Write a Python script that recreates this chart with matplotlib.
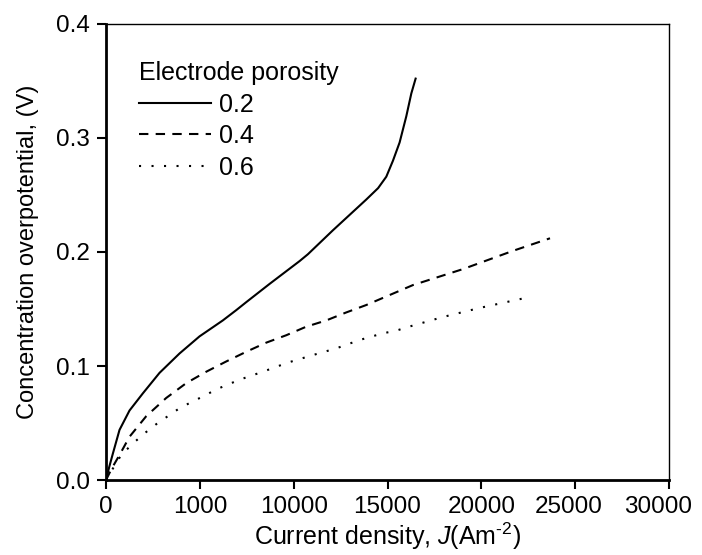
import numpy as np
import matplotlib
matplotlib.use("Agg")
import matplotlib.pyplot as plt
import matplotlib.transforms as mtransforms

plt.rcParams['font.family'] = ['Liberation Sans', 'DejaVu Sans']
plt.rcParams['mathtext.fontset'] = 'custom'
plt.rcParams['mathtext.rm'] = 'Liberation Sans'
plt.rcParams['mathtext.it'] = 'Liberation Sans:italic'

# Datos
j_02 = [0, 43, 180, 362, 720, 1253, 1962, 2852, 3918, 4984, 6226, 6940, 7473, 8716,
        10315, 10757, 12090, 13870, 14500, 14936, 15290, 15645, 16002, 16269, 16498]
v_02 = [0, 0.003, 0.012, 0.023, 0.044, 0.061, 0.076, 0.094, 0.111, 0.126, 0.140, 0.149, 0.156, 0.172,
        0.192, 0.198, 0.219, 0.246, 0.256, 0.266, 0.280, 0.296, 0.319, 0.339, 0.352]

j_04 = [0, 300, 720, 1253, 2143, 3209, 4275, 5341, 6407, 7473, 8539, 9606, 10672,
        11738, 12804, 13870, 16359, 19023, 21687, 23659]
v_04 = [0, 0.010, 0.022, 0.038, 0.056, 0.072, 0.085, 0.095, 0.104, 0.1125, 0.1205, 0.127, 0.1345,
        0.140, 0.147, 0.1535, 0.171, 0.185, 0.201, 0.212]

j_06 = [0, 362, 810, 1429, 2052, 2676, 3294, 3918, 4627, 5251, 5874, 7116, 8358, 9691,
        11024, 12272, 13513, 14757, 15468, 16040, 17958, 19929, 22433]
v_06 = [0, 0.010, 0.022, 0.032, 0.041, 0.049, 0.056, 0.063, 0.069, 0.074, 0.0795, 0.088, 0.095, 0.103,
        0.1096, 0.1155, 0.1228, 0.1287, 0.131, 0.134, 0.143, 0.151, 0.160]

x_ticks = [0, 5000, 10000, 15000, 20000, 25000, 30000]
x_tick_labels = ['0', '1000', '10000', '15000', '20000', '25000', '30000']
y_ticks = [0.0, 0.1, 0.2, 0.3, 0.4]

fig = plt.figure(figsize=(7.02, 5.55), dpi=100)
ax = fig.add_axes([0.151, 0.135, 0.802, 0.822])

ax.plot(j_02, v_02, color='black', lw=1.5, ls='-', label='0.2')
ax.plot(j_04, v_04, color='black', lw=1.5, ls=(0, (4.5, 3.5)), label='0.4')
ax.plot(j_06, v_06, color='black', lw=1.5, ls=(0, (1, 5)), label='0.6')

ax.set_xlim(0, 30000)
ax.set_ylim(0, 0.4)
ax.set_xticks(x_ticks)
ax.set_xticklabels(x_tick_labels)
ax.set_yticks(y_ticks)
ax.set_yticklabels([f'{v:.1f}' for v in y_ticks])

ax.tick_params(direction='out', length=6.5, width=1.5, labelsize=17.5, pad=5)
for s in ['left', 'bottom']:
    ax.spines[s].set_linewidth(2)
for s in ['top', 'right']:
    ax.spines[s].set_linewidth(1)

# las ultimas etiquetas del eje x quedan algo desplazadas a la izquierda
for lbl, dx in zip(ax.get_xticklabels()[-2:], [-6, -11]):
    lbl.set_transform(lbl.get_transform() + mtransforms.ScaledTranslation(dx / 100, 0, fig.dpi_scale_trans))

ax.set_xlabel(r'Current density, $J$(Am$^{\text{-2}}$)', fontsize=18, labelpad=2)
ax.set_ylabel('Concentration overpotential, (V)', fontsize=17, labelpad=12)

leg = ax.legend(title='Electrode porosity', loc='upper left', bbox_to_anchor=(0.04, 0.94),
                frameon=False, fontsize=18, title_fontsize=18, handlelength=2.9,
                handletextpad=0.3, labelspacing=0.3, alignment='left', borderaxespad=0)

plt.savefig('out.png', dpi=100)
